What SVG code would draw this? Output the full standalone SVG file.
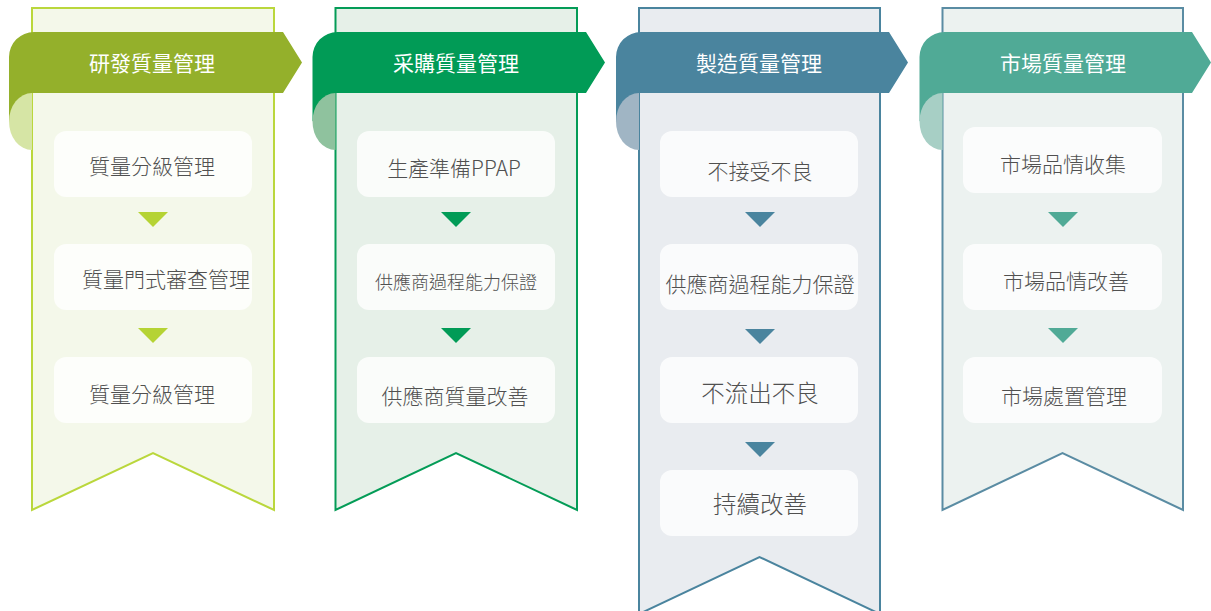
<svg xmlns="http://www.w3.org/2000/svg" width="1211" height="611" viewBox="0 0 1211 611">
<style>
.panel{stroke-width:2}
.box{fill:#ffffff;fill-opacity:0.78}
.title{font-family:"Noto Sans CJK TC","Noto Sans CJK SC",sans-serif;font-size:21px;fill:#ffffff;text-anchor:middle;dominant-baseline:central;font-weight:400}
.lbl{font-family:"Noto Sans CJK TC","Noto Sans CJK SC",sans-serif;font-size:21px;fill:#505050;text-anchor:middle;dominant-baseline:central;font-weight:300}
</style>
<rect width="1211" height="611" fill="#ffffff"/>

<!-- Column 1 -->
<g id="col1">
  <path class="panel" d="M32,8 H274 V510 L153,453 L32,510 Z" fill="#f4f8ea" stroke="#bad73c"/>
  <g id="col1-title">
    <path d="M9,121 V57 A25,25 0 0 1 34,32 H283 L302,62.5 L283,93 H32 V121 Z" fill="#94b02b"/>
    <path d="M32,93 A23,28.5 0 0 0 32,150 Z" fill="#d6e5a5"/>
    <text class="title" x="152" y="62">研發質量管理</text>
  </g>
  <g id="c1n1"><rect class="box" x="54" y="131" width="198" height="66" rx="12"/><text class="lbl" x="152" y="165">質量分級管理</text></g>
  <g id="c1n2"><rect class="box" x="54" y="244" width="198" height="66" rx="12"/><text class="lbl" x="82" y="278" style="text-anchor:start">質量門式審查管理</text></g>
  <g id="c1n3"><rect class="box" x="54" y="357" width="198" height="66" rx="12"/><text class="lbl" x="152" y="393">質量分級管理</text></g>
</g>

<!-- Column 2 -->
<g id="col2">
  <path class="panel" d="M335.5,8 H577 V510 L456,453 L335.5,510 Z" fill="#e6f0e8" stroke="#049c57"/>
  <g id="col2-title">
    <path d="M312.5,121 V57 A25,25 0 0 1 337.5,32 H586 L605,62.5 L586,93 H335.5 V121 Z" fill="#019b56"/>
    <path d="M335.5,93 A23,28.5 0 0 0 335.5,150 Z" fill="#8fc29e"/>
    <text class="title" x="456" y="62">采購質量管理</text>
  </g>
  <g id="c2n1"><rect class="box" x="357" y="131" width="198" height="66" rx="12"/><text class="lbl" x="454" y="167">生產準備PPAP</text></g>
  <g id="c2n2"><rect class="box" x="357" y="244" width="198" height="66" rx="12"/><text class="lbl" x="456" y="281" style="font-size:18px">供應商過程能力保證</text></g>
  <g id="c2n3"><rect class="box" x="357" y="357" width="198" height="66" rx="12"/><text class="lbl" x="455" y="395">供應商質量改善</text></g>
</g>

<!-- Column 3 -->
<g id="col3">
  <path class="panel" d="M639,8 H880 V614 L759.5,557 L639,614 Z" fill="#e9ecf0" stroke="#4a849e"/>
  <g id="col3-title">
    <path d="M616,121 V57 A25,25 0 0 1 641,32 H889 L908,62.5 L889,93 H639 V121 Z" fill="#4a849e"/>
    <path d="M639,93 A23,28.5 0 0 0 639,150 Z" fill="#a0b5c4"/>
    <text class="title" x="759" y="62">製造質量管理</text>
  </g>
  <g id="c3n1"><rect class="box" x="660" y="131" width="198" height="66" rx="12"/><text class="lbl" x="760" y="170">不接受不良</text></g>
  <g id="c3n2"><rect class="box" x="660" y="244" width="198" height="66" rx="12"/><text class="lbl" x="760" y="283">供應商過程能力保證</text></g>
  <g id="c3n3"><rect class="box" x="660" y="357" width="198" height="66" rx="12"/><text class="lbl" x="760" y="392" style="font-size:23.5px">不流出不良</text></g>
  <g id="c3n4"><rect class="box" x="660" y="470" width="198" height="66" rx="12"/><text class="lbl" x="760" y="503" style="font-size:23.5px">持續改善</text></g>
</g>

<!-- Column 4 -->
<g id="col4">
  <path class="panel" d="M942.5,8 H1183 V510 L1062.5,453 L942.5,510 Z" fill="#ecf2f0" stroke="#5a8ca3"/>
  <g id="col4-title">
    <path d="M919.5,121 V57 A25,25 0 0 1 944.5,32 H1192 L1211,62.5 L1192,93 H942.5 V121 Z" fill="#50aa96"/>
    <path d="M942.5,93 A23,28.5 0 0 0 942.5,150 Z" fill="#a7cfc5"/>
    <text class="title" x="1063" y="62">市場質量管理</text>
  </g>
  <g id="c4n1"><rect class="box" x="963" y="127" width="199" height="66" rx="12"/><text class="lbl" x="1063" y="163">市場品情收集</text></g>
  <g id="c4n2"><rect class="box" x="963" y="244" width="199" height="66" rx="12"/><text class="lbl" x="1066" y="280">市場品情改善</text></g>
  <g id="c4n3"><rect class="box" x="963" y="357" width="199" height="66" rx="12"/><text class="lbl" x="1064" y="395">市場處置管理</text></g>
</g>

<!-- Connectors -->
<g id="connectors">
  <path d="M138,212 H168 L153,227 Z" fill="#b5d334"/>
  <path d="M138,328 H168 L153,343 Z" fill="#b5d334"/>
  <path d="M441,212 H471 L456,227 Z" fill="#019b56"/>
  <path d="M441,328 H471 L456,343 Z" fill="#019b56"/>
  <path d="M745,212 H775 L760,227 Z" fill="#4a849e"/>
  <path d="M745,329 H775 L760,344 Z" fill="#4a849e"/>
  <path d="M745,442 H775 L760,457 Z" fill="#4a849e"/>
  <path d="M1048,212 H1078 L1063,227 Z" fill="#50aa96"/>
  <path d="M1048,328 H1078 L1063,343 Z" fill="#50aa96"/>
</g>
</svg>
